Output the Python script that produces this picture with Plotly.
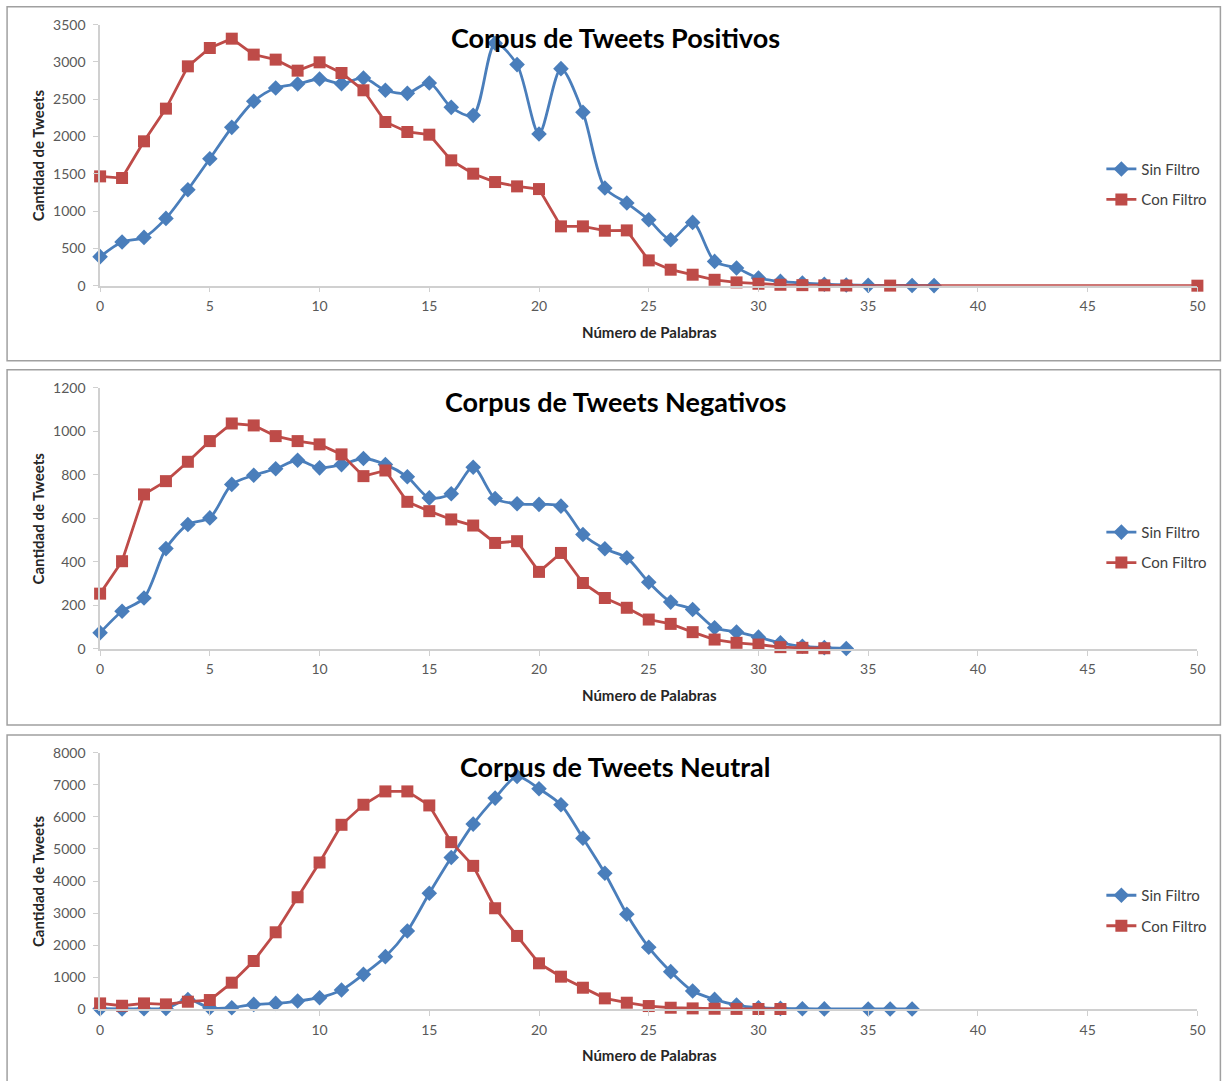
import plotly.graph_objects as go

# ---------------- data ----------------
pos_sin_x = list(range(0, 36)) + [37, 38]
pos_sin_y = [390, 586, 648, 903, 1287, 1703, 2123, 2472, 2651, 2704,
             2771, 2709, 2785, 2620, 2579, 2718, 2391, 2284, 3250, 2964,
             2034, 2910, 2325, 1310, 1109, 885, 617, 849, 326, 237,
             103, 58, 36, 20, 10, 5, 3, 2]
pos_con_x = list(range(0, 35)) + [36, 50]
pos_con_y = [1466, 1444, 1936, 2374, 2941, 3187, 3312, 3098, 3031, 2883,
             2995, 2852, 2620, 2195, 2061, 2025, 1681, 1502, 1390, 1332,
             1296, 796, 796, 738, 742, 340, 215, 148, 80, 45,
             27, 13, 8, 5, 3, 2, 1]

neg_sin_x = list(range(0, 35))
neg_sin_y = [74, 173, 234, 461, 572, 602, 756, 798, 828, 867,
             832, 847, 875, 847, 791, 694, 713, 835, 691, 667,
             664, 656, 526, 460, 419, 306, 215, 181, 97, 78,
             54, 28, 12, 6, 2]
neg_con_x = list(range(0, 34))
neg_con_y = [254, 403, 710, 771, 860, 955, 1036, 1027, 978, 955,
             940, 894, 794, 820, 676, 633, 595, 567, 487, 495,
             354, 441, 303, 234, 189, 135, 115, 77, 43, 28,
             20, 8, 5, 3]

neu_sin_x = list(range(0, 34)) + [35, 36, 37]
neu_sin_y = [10, 5, 10, 21, 300, 40, 42, 146, 177, 250,
             355, 594, 1084, 1637, 2440, 3618, 4734, 5777, 6590, 7268,
             6882, 6382, 5339, 4244, 2961, 1929, 1168, 563, 302, 125,
             42, 20, 10, 5, 2, 2, 2]
neu_con_x = list(range(0, 32))
neu_con_y = [177, 104, 177, 146, 230, 282, 824, 1502, 2398, 3493,
             4578, 5756, 6382, 6799, 6799, 6361, 5214, 4473, 3149, 2284,
             1429, 1012, 667, 334, 198, 94, 42, 21, 10, 5,
             3, 2]

titles = ["Corpus de Tweets Positivos", "Corpus de Tweets Negativos", "Corpus de Tweets Neutral"]
y_ranges = [[0, 3500], [0, 1200], [0, 8000]]
y_dticks = [500, 200, 1000]
x_tickvals = [0, 5, 10, 15, 20, 25, 30, 35, 40, 45, 50]
series_names = ["Sin Filtro", "Con Filtro"]

# ---------------- layout helpers ----------------
W, H = 1232, 1092
BODY = 8            # default page margin around the figure
SX, OX = 0.99, -4.0     # observed capture mapping (horizontal)
SY, OY = 0.984, 1.5     # observed capture mapping (vertical)
BLUE = "#4A7EBB"
RED = "#BE4B48"
FONT = "Lato"
TICK_COLOR = "#595959"
AXIS_COLOR = "#D0D0D0"

def px_x(p):
    f = (p - OX) / SX - BODY
    return f / W

def px_y(p):
    f = (p - OY) / SY - BODY
    return 1 - f / H

plot_px = [(25, 286), (388, 649), (753, 1009)]
x_left, x_right = 100, 1197
panel_boxes = [(7, 361), (370, 725), (735, 1095)]
title_y = [38, 402, 767]
xtitle_y = [332, 695, 1055]
legend_y = [153, 516, 879]

data = [
    (pos_sin_x, pos_sin_y, pos_con_x, pos_con_y),
    (neg_sin_x, neg_sin_y, neg_con_x, neg_con_y),
    (neu_sin_x, neu_sin_y, neu_con_x, neu_con_y),
]

fig = go.Figure()
annotations = []
shapes = []
layout = {}

for i in range(3):
    n = "" if i == 0 else str(i + 1)
    xa, ya = "x" + n, "y" + n
    lg = "legend" + n
    sx, sy, cx, cy = data[i]
    fig.add_trace(go.Scatter(
        x=sx, y=sy, mode="lines+markers", name=series_names[0],
        xaxis=xa, yaxis=ya, legend=lg, legendgroup="a%d" % i,
        line=dict(color=BLUE, width=2.8, shape="spline", smoothing=0.8),
        marker=dict(symbol="diamond", size=12, color=BLUE),
        cliponaxis=False))
    fig.add_trace(go.Scatter(
        x=cx, y=cy, mode="lines+markers", name=series_names[1],
        xaxis=xa, yaxis=ya, legend=lg, legendgroup="b%d" % i,
        line=dict(color=RED, width=2.8),
        marker=dict(symbol="square", size=12, color=RED),
        cliponaxis=False))

    top, bot = plot_px[i]
    layout["xaxis" + n] = dict(
        domain=[px_x(x_left), px_x(x_right)], anchor=ya, range=[0, 50],
        tickvals=x_tickvals, showgrid=False, zeroline=False,
        showline=True, linecolor=AXIS_COLOR, linewidth=1.5,
        ticks="outside", ticklen=5, tickcolor=AXIS_COLOR,
        ticklabelstandoff=2,
        tickfont=dict(family=FONT, size=14, color=TICK_COLOR))
    layout["yaxis" + n] = dict(
        domain=[px_y(bot), px_y(top)], anchor=xa, range=y_ranges[i],
        dtick=y_dticks[i], showgrid=False, zeroline=False,
        showline=True, linecolor=AXIS_COLOR, linewidth=1.5,
        ticks="outside", ticklen=5, tickcolor=AXIS_COLOR,
        ticklabelstandoff=5,
        tickfont=dict(family=FONT, size=14, color=TICK_COLOR))
    layout[lg] = dict(
        x=px_x(1101), y=px_y(legend_y[i]), xanchor="left", yanchor="top",
        bgcolor="rgba(255,255,255,0)", tracegroupgap=8,
        font=dict(family=FONT, size=15, color="#404040"),
        itemwidth=30)

    annotations.append(dict(
        text="<b>%s</b>" % titles[i], xref="paper", yref="paper",
        x=px_x(615), y=px_y(title_y[i]), xanchor="center", yanchor="middle",
        showarrow=False, font=dict(family=FONT, size=27, color="black")))
    annotations.append(dict(
        text="<b>Número de Palabras</b>", xref="paper", yref="paper",
        x=px_x(649), y=px_y(xtitle_y[i]), xanchor="center", yanchor="middle",
        showarrow=False, font=dict(family=FONT, size=15, color="#262626")))
    annotations.append(dict(
        text="<b>Cantidad de Tweets</b>", xref="paper", yref="paper",
        x=px_x(38), y=px_y((top + bot) / 2), xanchor="center", yanchor="middle",
        textangle=-90, showarrow=False,
        font=dict(family=FONT, size=15, color="#262626")))
    bt, bb = panel_boxes[i]
    shapes.append(dict(
        type="rect", xref="paper", yref="paper",
        x0=px_x(7), x1=px_x(1220), y0=px_y(bb), y1=px_y(bt),
        line=dict(color="#A0A0A0", width=1.5), fillcolor="rgba(0,0,0,0)",
        layer="below"))

fig.update_layout(
    width=W, height=H, margin=dict(l=0, r=0, t=0, b=0),
    paper_bgcolor="white", plot_bgcolor="white",
    annotations=annotations, shapes=shapes, showlegend=True,
    **layout)

fig.write_html("out.html")
